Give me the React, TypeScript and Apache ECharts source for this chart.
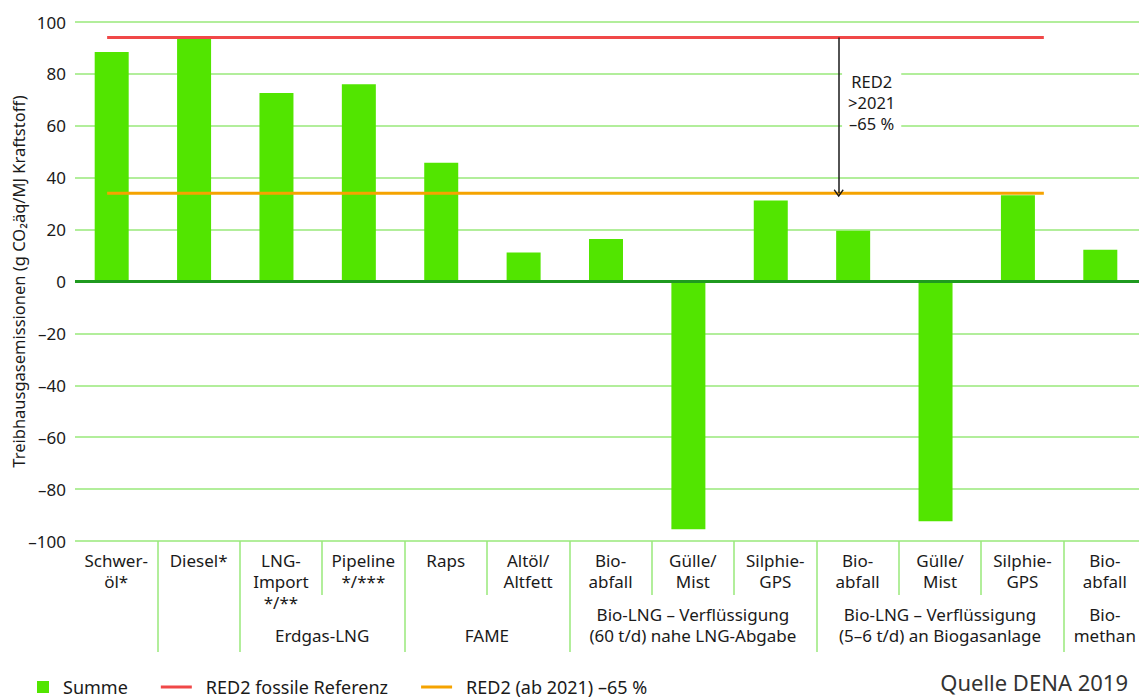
import React, { useEffect, useRef } from "react";
import * as echarts from "echarts";

const CATEGORIES = [
  "Schwer-\nöl*",
  "Diesel*",
  "LNG-\nImport\n*/**",
  "Pipeline\n*/***",
  "Raps",
  "Altöl/\nAltfett",
  "Bio-\nabfall",
  "Gülle/\nMist",
  "Silphie-\nGPS",
  "Bio-\nabfall",
  "Gülle/\nMist",
  "Silphie-\nGPS",
  "Bio-\nabfall",
];
const SUMME = [88.4, 94, 72.6, 76, 45.8, 11.2, 16.4, -95.5, 31.2, 19.6, -92.4, 33.2, 12.2];

const GROUP_LABELS = [
  "\nErdgas-LNG",
  "\nFAME",
  "Bio-LNG – Verflüssigung\n(60 t/d) nahe LNG-Abgabe",
  "Bio-LNG – Verflüssigung\n(5–6 t/d) an Biogasanlage",
  "Bio-\nmethan",
];
const GROUP_CENTERS = [3, 5, 7.5, 10.5, 12.5];
const GROUP_BOUNDS = [1, 2, 4, 6, 9, 12];
const SUB_BOUNDS = [3, 5, 7, 8, 10, 11];

const Y_TICKS_MIN = -100;
const Y_TICKS_MAX = 100;
const Y_INTERVAL = 20;

const RED2_FOSSIL = 94;
const RED2_TARGET = 34;
const REF_LINE_SPAN = [0.39, 11.76];
const ARROW_X = 9.27;
const NOTE_POS = [9.67, 69];

const FONT = "'Noto Sans', 'Open Sans', sans-serif";
const TEXT = "#1a1a1a";
const GRID_GREEN = "#98e87a";

// legend icons drawn in a 40x12 box
const ICON_SQUARE = "path://M19,0h12v12h-12zM0,0h0.1v0.1h-0.1zM39.9,11.9h0.1v0.1h-0.1z";
const ICON_LINE = "path://M0,4.5h31v3h-31zM39.9,0h0.1v0.1h-0.1zM39.9,11.9h0.1v0.1h-0.1zM0,0h0.1v0.1h-0.1z";

export default function App() {
  const ref = useRef<HTMLDivElement>(null);
  useEffect(() => {
    if (!ref.current) return;
    const chart = echarts.init(ref.current, null, { renderer: "svg" });
    const chevron = "path://M5,0L10,7L9,8L5,2.4L1,8L0,7Z";
    chart.setOption({
      animation: false,
      textStyle: { fontFamily: FONT },
      grid: { left: 75, right: -7, top: 22, bottom: 158, outerBoundsMode: "none", containLabel: false },
      legend: {
        left: 13,
        top: 673,
        itemWidth: 40,
        itemHeight: 12,
        itemGap: 33,
        textStyle: { fontSize: 18, color: TEXT, fontFamily: FONT },
        data: [
          { name: "Summe", icon: ICON_SQUARE },
          { name: "RED2 fossile Referenz", icon: ICON_LINE },
          { name: "RED2 (ab 2021) –65 %", icon: ICON_LINE },
        ],
      },
      xAxis: [
        {
          type: "category",
          position: "bottom",
          data: CATEGORIES,
          axisLine: { show: false, onZero: false },
          axisTick: { show: false },
          splitLine: { show: false },
          axisLabel: {
            interval: 0,
            margin: 9,
            fontSize: 17,
            lineHeight: 21,
            color: TEXT,
            fontFamily: FONT,
            formatter: (_v: string, i: number) => CATEGORIES[i],
          },
        },
        {
          type: "value",
          position: "bottom",
          min: 0,
          max: 13,
          axisLine: { show: false, onZero: false },
          splitLine: { show: false },
          axisTick: {
            show: true,
            customValues: GROUP_BOUNDS,
            length: 111,
            lineStyle: { color: GRID_GREEN, width: 1.5 },
          },
          axisLabel: {
            show: true,
            customValues: GROUP_CENTERS,
            margin: 63,
            fontSize: 17,
            lineHeight: 21,
            color: TEXT,
            fontFamily: FONT,
            formatter: (v: number) => {
              const i = GROUP_CENTERS.indexOf(v);
              return i >= 0 ? GROUP_LABELS[i] : "";
            },
          },
        },
        {
          type: "value",
          position: "bottom",
          min: 0,
          max: 13,
          axisLine: { show: false, onZero: false },
          splitLine: { show: false },
          axisTick: {
            show: true,
            customValues: SUB_BOUNDS,
            length: 54,
            lineStyle: { color: GRID_GREEN, width: 1.5 },
          },
          axisLabel: { show: false },
        },
      ],
      yAxis: {
        type: "value",
        min: Y_TICKS_MIN,
        max: Y_TICKS_MAX,
        interval: Y_INTERVAL,
        name: "Treibhausgasemissionen (g CO₂äq/MJ Kraftstoff)",
        nameLocation: "middle",
        nameGap: 48,
        nameMoveOverlap: false,
        nameTextStyle: { fontSize: 16.5, color: TEXT, fontFamily: FONT },
        axisLine: { show: false },
        axisTick: { show: false },
        splitLine: { lineStyle: { color: GRID_GREEN, width: 1.5 } },
        axisLabel: {
          margin: 9,
          fontSize: 17,
          color: TEXT,
          fontFamily: FONT,
          formatter: (v: number) => (v < 0 ? "–" + Math.abs(v) : String(v)),
        },
      },
      series: [
        {
          name: "Summe",
          type: "bar",
          data: SUMME,
          barWidth: 34,
          barGap: "0%",
          itemStyle: { color: "#52e500" },
          markLine: {
            silent: true,
            symbol: "none",
            label: { show: false },
            lineStyle: { color: "#1f9a1f", width: 3, type: "solid" },
            data: [{ yAxis: 0 }],
          },
        },
        {
          name: "spacer",
          type: "bar",
          data: [],
          barWidth: 9,
          barGap: "0%",
        },
        {
          name: "RED2 fossile Referenz",
          type: "line",
          xAxisIndex: 1,
          data: [
            [REF_LINE_SPAN[0], RED2_FOSSIL],
            [REF_LINE_SPAN[1], RED2_FOSSIL],
          ],
          symbol: "none",
          silent: true,
          lineStyle: { color: "#f04848", width: 3 },
          itemStyle: { color: "#f04848" },
          markLine: {
            silent: true,
            symbol: ["none", chevron],
            symbolSize: [10, 8],
            label: { show: false },
            lineStyle: { color: TEXT, width: 1.5, type: "solid" },
            data: [[{ coord: [ARROW_X, RED2_FOSSIL] }, { coord: [ARROW_X, RED2_TARGET] }]],
          },
        },
        {
          name: "RED2 (ab 2021) –65 %",
          type: "line",
          xAxisIndex: 1,
          data: [
            [REF_LINE_SPAN[0], RED2_TARGET],
            [REF_LINE_SPAN[1], RED2_TARGET],
          ],
          symbol: "none",
          silent: true,
          lineStyle: { color: "#f5a300", width: 3 },
          itemStyle: { color: "#f5a300" },
          markPoint: {
            silent: true,
            data: [
              {
                coord: NOTE_POS,
                symbol: "rect",
                symbolSize: 1,
                itemStyle: { color: "rgba(0,0,0,0)" },
                label: {
                  show: true,
                  position: "inside",
                  formatter: "RED2\n>2021\n–65 %",
                  fontSize: 16.5,
                  lineHeight: 21,
                  color: TEXT,
                  fontFamily: FONT,
                  backgroundColor: "#fff",
                  padding: [2, 6],
                },
              },
            ],
          },
        },
      ],
      graphic: [
        {
          type: "text",
          right: 11,
          top: 671,
          style: {
            text: "Quelle DENA 2019",
            fontSize: 22,
            fill: "#333",
            fontFamily: FONT,
          },
        },
      ],
    });
    return () => chart.dispose();
  }, []);
  return (
    <div
      ref={ref}
      style={{ position: "fixed", left: 0, top: 0, width: 1139, height: 699, background: "#fff" }}
    />
  );
}
